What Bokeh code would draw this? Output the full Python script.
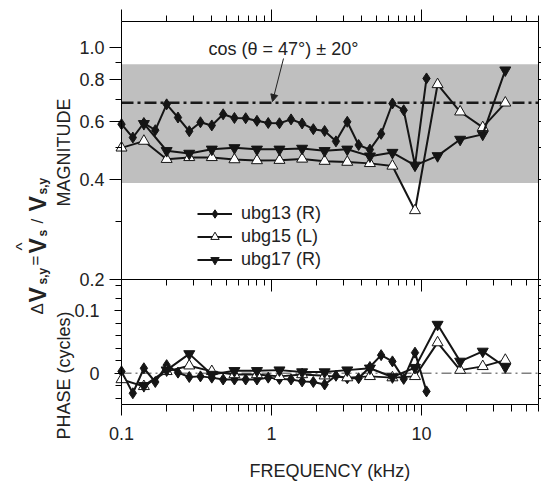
import math
from bokeh.plotting import figure
from bokeh.models import (Range1d, LogScale, LogAxis, LinearAxis, FixedTicker, PrintfTickFormatter,
                          CustomJSTickFormatter, BoxAnnotation, Label, Arrow, NormalHead,
                          Legend, LegendItem, Grid)
from bokeh.embed import file_html
from bokeh.resources import INLINE

# ---------------- data ----------------
freq13 = [0.1, 0.119, 0.141, 0.168, 0.2, 0.238, 0.283, 0.336, 0.4, 0.476, 0.566, 0.673, 0.8, 0.951,
          1.13, 1.35, 1.6, 1.9, 2.26, 2.69, 3.2, 3.81, 4.53, 5.38, 6.4, 7.61, 9.05, 10.8]
mag13 = [0.588, 0.536, 0.593, 0.564, 0.675, 0.616, 0.560, 0.596, 0.583, 0.630, 0.614, 0.613, 0.602, 0.593,
         0.592, 0.608, 0.591, 0.568, 0.561, 0.522, 0.598, 0.509, 0.493, 0.550, 0.679, 0.648, 0.442, 0.808]
phase13 = [0.003, -0.032, 0.008, -0.014, 0.013, 0.001, -0.006, -0.005, -0.007, -0.010, -0.010, -0.010, -0.010, -0.007,
           -0.009, -0.010, -0.013, -0.014, -0.018, -0.004, -0.008, -0.008, 0.010, 0.029, 0.019, -0.009, 0.033, -0.029]

freq15 = [0.1, 0.141, 0.2, 0.283, 0.4, 0.566, 0.8, 1.13, 1.6, 2.26, 3.2, 4.53, 6.4, 9.05, 12.8, 18.1, 25.6, 36.2]
mag15 = [0.499, 0.523, 0.461, 0.467, 0.467, 0.460, 0.457, 0.458, 0.462, 0.455, 0.452, 0.448, 0.440, 0.323,
         0.775, 0.641, 0.575, 0.682]
phase15 = [-0.010, -0.021, 0.003, 0.012, 0.003, -0.002, -0.002, -0.005, -0.002, -0.004, -0.007, -0.005, -0.007,
           -0.005, 0.049, 0.005, 0.011, 0.021]

freq17 = [0.141, 0.2, 0.283, 0.4, 0.566, 0.8, 1.13, 1.6, 2.26, 3.2, 4.53, 6.4, 9.05, 12.8, 18.1, 25.6, 36.2]
mag17 = [0.590, 0.489, 0.480, 0.494, 0.499, 0.494, 0.494, 0.497, 0.489, 0.494, 0.471, 0.483, 0.442, 0.472,
         0.529, 0.548, 0.856]
phase17 = [-0.020, 0.005, 0.031, -0.002, 0.004, 0.004, 0.005, 0.002, 0.002, 0.005, 0.008, -0.006, 0.009,
           0.078, 0.019, 0.035, 0.010]

series_labels = ["ubg13 (R)", "ubg15 (L)", "ubg17 (R)"]
band_low, band_high = 0.391, 0.891      # cos(47 +/- 20 deg)
cos_line = 0.682                         # cos(47 deg)

mag_ticks = [0.2, 0.4, 0.6, 0.8, 1.0]
mag_minor = [0.3, 0.5, 0.7, 0.9]
phase_ticks = [0, 0.1]
phase_minor = [-0.04, -0.02, 0.02, 0.04, 0.06, 0.08, 0.12, 0.14]
x_ticks = [0.1, 1, 10]
x_minor = [0.2, 0.3, 0.4, 0.5, 0.6, 0.7, 0.8, 0.9, 2, 3, 4, 5, 6, 7, 8, 9, 20, 30, 40, 50, 60]

# ---------------- layout (pixels) ----------------
FONT = "Liberation Sans"
W, H = 541, 485
FL, FR, FT, FM, FB = 121, 538, 21, 279, 404     # panel box edges
X_START = 0.1
MAG_TOP, MAG_BOT_AX = 1.2, 0.2
PH_BOT, PH_TOP_AX = -0.05, 0.15
PX_DEC_X = 150.0
PX_DEC_MAG = (FM - FT) / math.log10(MAG_TOP / MAG_BOT_AX)
PX_PH = (FB - FM) / (PH_TOP_AX - PH_BOT)


def fx(sx):
    return X_START * 10 ** ((sx - FL) / PX_DEC_X)


def fph(sy):
    return PH_BOT + (FB - sy) / PX_PH


def fmag(sy):
    return MAG_TOP * 10 ** ((FT - sy) / PX_DEC_MAG)


X_END = fx(FR)

p = figure(width=W, height=H, x_axis_type="log",
           x_range=Range1d(fx(0), fx(W)), y_range=Range1d(fph(H), fph(0)),
           x_axis_location=None, y_axis_location=None,
           output_backend="svg", toolbar_location=None, min_border=0)
p.extra_y_ranges = {"mag": Range1d(fmag(H), fmag(0))}
p.extra_y_scales = {"mag": LogScale()}
for g in p.select(type=Grid):
    g.visible = False
p.outline_line_color = None
p.background_fill_color = "white"
p.border_fill_color = "white"

# band and reference lines
p.add_layout(BoxAnnotation(left=X_START, right=X_END, bottom=band_low, top=band_high, y_range_name="mag",
                           fill_color="#bfbfbf", fill_alpha=1, line_color=None, level="underlay"))
p.segment(x0=[X_START], x1=[X_END], y0=[cos_line], y1=[cos_line], y_range_name="mag",
          line_color="#1a1a1a", line_width=2.5, line_dash="12 4 3 4")
p.segment(x0=[X_START], x1=[X_END], y0=[0], y1=[0],
          line_color="#808080", line_width=1.5, line_dash="10 4 2 4")

LC = "#151515"
LW = 2
# magnitude
l13 = p.line(freq13, mag13, y_range_name="mag", line_color=LC, line_width=LW)
s13 = p.scatter(freq13, mag13, y_range_name="mag", marker="diamond", size=11, fill_color=LC, line_color=LC)
l15 = p.line(freq15, mag15, y_range_name="mag", line_color=LC, line_width=LW)
s15 = p.scatter(freq15, mag15, y_range_name="mag", marker="triangle", size=11, fill_color="white",
                line_color=LC, line_width=1)
l17 = p.line(freq17, mag17, y_range_name="mag", line_color=LC, line_width=LW)
s17 = p.scatter(freq17, mag17, y_range_name="mag", marker="inverted_triangle", size=11, fill_color=LC,
                line_color=LC)
# phase
p.line(freq13, phase13, line_color=LC, line_width=LW)
p.scatter(freq13, phase13, marker="diamond", size=11, fill_color=LC, line_color=LC)
p.line(freq15, phase15, line_color=LC, line_width=LW)
p.scatter(freq15, phase15, marker="triangle", size=11, fill_color="white", line_color=LC, line_width=1)
p.line(freq17, phase17, line_color=LC, line_width=LW)
p.scatter(freq17, phase17, marker="inverted_triangle", size=11, fill_color=LC, line_color=LC)

legend = Legend(items=[LegendItem(label=series_labels[0], renderers=[l13, s13]),
                       LegendItem(label=series_labels[1], renderers=[l15, s15]),
                       LegendItem(label=series_labels[2], renderers=[l17, s17])],
                location=(197, H - 270), border_line_color=None, background_fill_alpha=0,
                padding=0, margin=0, spacing=2, glyph_width=35, glyph_height=21, label_height=21,
                label_standoff=9, label_text_font=FONT, label_text_font_size="18px",
                label_text_color="#222222")
p.add_layout(legend)

# ---------------- axes ----------------
EMPTY = CustomJSTickFormatter(code="return ''")
AX = dict(major_label_text_font=FONT, major_label_text_font_size="18px",
          major_label_text_color="#222222", axis_line_color="black", axis_line_width=1,
          major_tick_line_color="black", minor_tick_line_color="black",
          major_tick_in=0, minor_tick_in=0)

p.add_layout(LogAxis(y_range_name="mag", fixed_location=X_START, bounds=(MAG_BOT_AX, MAG_TOP),
                     ticker=FixedTicker(ticks=mag_ticks, minor_ticks=mag_minor),
                     formatter=PrintfTickFormatter(format="%.1f"),
                     major_tick_out=12, minor_tick_out=6, major_label_standoff=5, **AX), "left")
p.add_layout(LinearAxis(fixed_location=X_START, bounds=(PH_BOT, PH_TOP_AX),
                        ticker=FixedTicker(ticks=phase_ticks, minor_ticks=phase_minor),
                        formatter=CustomJSTickFormatter(code="return tick == 0 ? '0' : tick.toFixed(1)"),
                        major_tick_out=7, minor_tick_out=6, major_label_standoff=15, **AX), "left")
p.add_layout(LogAxis(y_range_name="mag", fixed_location=X_END, bounds=(MAG_BOT_AX, MAG_TOP),
                     ticker=FixedTicker(ticks=mag_ticks, minor_ticks=mag_minor), formatter=EMPTY,
                     major_tick_out=6, minor_tick_out=6, **AX), "right")
p.add_layout(LinearAxis(fixed_location=X_END, bounds=(PH_BOT, PH_TOP_AX),
                        ticker=FixedTicker(ticks=phase_ticks, minor_ticks=phase_minor), formatter=EMPTY,
                        major_tick_out=6, minor_tick_out=6, **AX), "right")

p.add_layout(LogAxis(fixed_location=PH_BOT, bounds=(X_START, X_END),
                     ticker=FixedTicker(ticks=x_ticks, minor_ticks=x_minor),
                     formatter=CustomJSTickFormatter(code="return tick < 1 ? tick.toFixed(1) : tick.toFixed(0)"),
                     major_tick_out=11, minor_tick_out=7, major_label_standoff=11, **AX), "below")
p.add_layout(LogAxis(fixed_location=PH_TOP_AX, bounds=(X_START, X_END),
                     ticker=FixedTicker(ticks=x_ticks, minor_ticks=x_minor), formatter=EMPTY,
                     major_tick_out=12, minor_tick_out=6, **AX), "below")
p.add_layout(LogAxis(fixed_location=fph(FT), bounds=(X_START, X_END),
                     ticker=FixedTicker(ticks=x_ticks, minor_ticks=x_minor), formatter=EMPTY,
                     major_tick_out=12, minor_tick_out=6, **AX), "above")

# ---------------- texts ----------------
TXT = "#222222"


def lab(text, sx, sy, size="18px", angle=0.0, align="left", baseline="middle", style="normal"):
    p.add_layout(Label(x=fx(sx), y=fph(sy), text=text, angle=angle, text_align=align,
                       text_baseline=baseline, text_font=FONT, text_font_size=size,
                       text_font_style=style, text_color=TXT))


lab("FREQUENCY (kHz)", 329.5, 470, align="center")
lab("MAGNITUDE", 63.5, 152, angle=math.pi / 2, align="center")
lab("PHASE (cycles)", 63.5, 375, angle=math.pi / 2, align="center")
lab("cos (\u03b8 = 47\u00b0) \u00b1 20\u00b0", 208, 48)

# combined y label:  delta V_{s,y} = V-hat_s / V_{s,y}
R = math.pi / 2
lab("\u0394", 37, 314, size="17px", angle=R, baseline="alphabetic")
lab("V", 37, 302, size="23px", angle=R, baseline="alphabetic", style="bold")
lab("s,y", 42, 284, size="12px", angle=R, baseline="alphabetic", style="bold")
lab("=", 35, 265, size="17px", angle=R, baseline="alphabetic")
lab("V", 37, 253, size="23px", angle=R, baseline="alphabetic", style="bold")
lab("^", 22, 250, size="17px", angle=R, baseline="alphabetic")
lab("s", 42, 236, size="12px", angle=R, baseline="alphabetic", style="bold")
lab("/", 37, 223, size="17px", angle=R, baseline="alphabetic")
lab("V", 37, 211, size="23px", angle=R, baseline="alphabetic", style="bold")
lab("s,y", 42, 194, size="12px", angle=R, baseline="alphabetic", style="bold")

p.add_layout(Arrow(x_start=fx(283), y_start=fph(58), x_end=fx(272), y_end=fph(101),
                   line_color="#222222", line_width=1,
                   end=NormalHead(size=7, fill_color="#222222", line_color="#222222")))

open("out.html", "w").write(file_html(p, INLINE))
